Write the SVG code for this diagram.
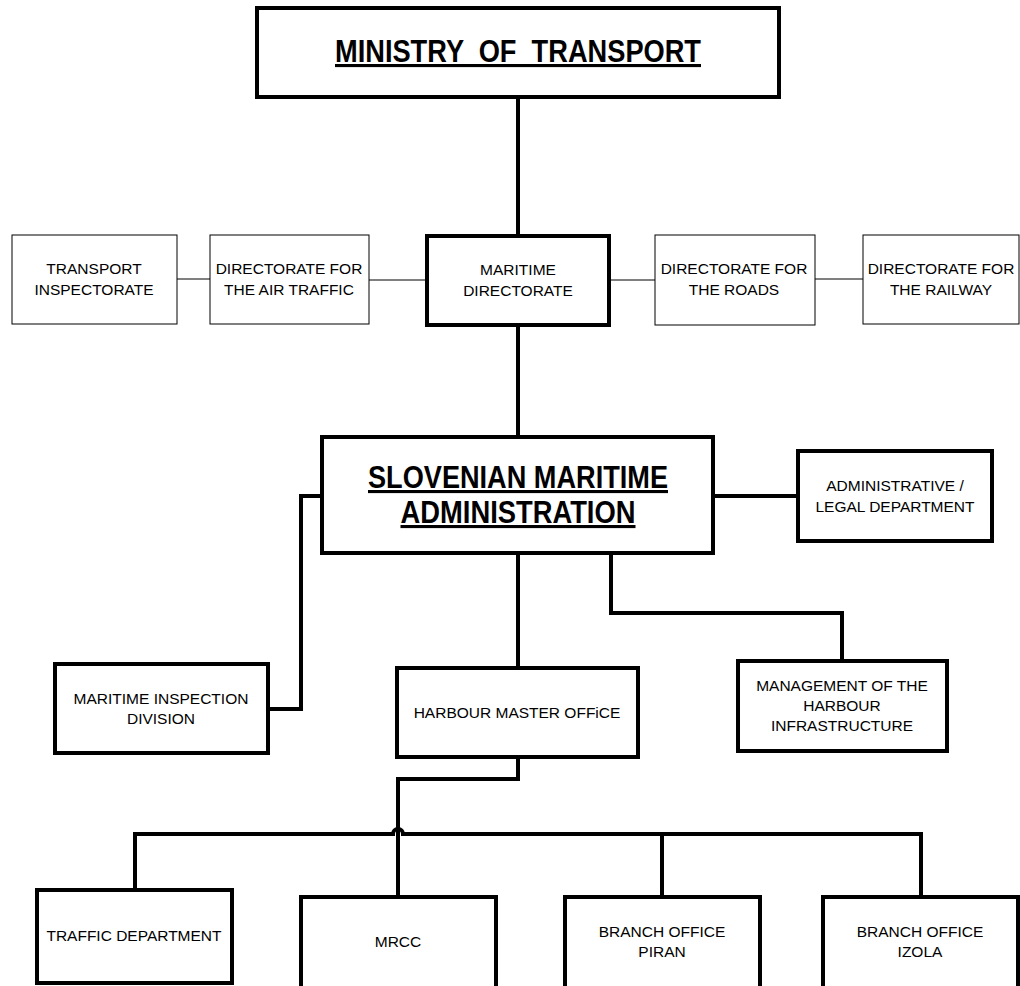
<svg xmlns="http://www.w3.org/2000/svg" width="1020" height="986" viewBox="0 0 1020 986">
<style>
.thick{fill:#fff;stroke:#000;stroke-width:4}
.thin{fill:#fff;stroke:#000;stroke-width:1}
.c{fill:none;stroke:#000;stroke-width:4;stroke-linejoin:miter}
.ct{fill:none;stroke:#000;stroke-width:1}
text{font-family:"Liberation Sans",Arial,sans-serif;font-size:15.5px;fill:#000;text-anchor:middle}
.b{font-weight:bold;text-decoration:underline;font-size:31px;white-space:pre}
</style>
<rect width="1020" height="986" fill="#fff"/>
<g id="connectors">
<path class="c" d="M518 97V236"/>
<path class="c" d="M518 325V437"/>
<path class="ct" d="M177 279H210M369 280H427M609 280H655M815 279H863"/>
<path class="c" d="M713 496H798"/>
<path class="c" d="M322 496H301V709H268"/>
<path class="c" d="M518 553V668"/>
<path class="c" d="M611 553V613H842V661"/>
<path class="c" d="M518 757V779H398V897"/>
<path class="c" d="M135 890V834H393A5 5 0 0 1 403 834H921V897"/>
<path class="c" d="M662 834V897"/>
</g>
<g id="ministry"><rect class="thick" x="257" y="8" width="522" height="89"/><text class="b" x="518" y="62" textLength="366" lengthAdjust="spacingAndGlyphs">MINISTRY  OF  TRANSPORT</text></g>
<g id="transport-inspectorate"><rect class="thin" x="12" y="235" width="165" height="89"/><text x="94" y="274">TRANSPORT</text><text x="94" y="295">INSPECTORATE</text></g>
<g id="dir-air"><rect class="thin" x="210" y="235" width="159" height="89"/><text x="289" y="274">DIRECTORATE FOR</text><text x="289" y="295">THE AIR TRAFFIC</text></g>
<g id="maritime-directorate"><rect class="thick" x="427" y="236" width="182" height="89"/><text x="518" y="275">MARITIME</text><text x="518" y="296">DIRECTORATE</text></g>
<g id="dir-roads"><rect class="thin" x="655" y="235" width="160" height="90"/><text x="734" y="274">DIRECTORATE FOR</text><text x="734" y="295">THE ROADS</text></g>
<g id="dir-railway"><rect class="thin" x="863" y="235" width="156" height="89"/><text x="941" y="274">DIRECTORATE FOR</text><text x="941" y="295">THE RAILWAY</text></g>
<g id="sma"><rect class="thick" x="322" y="437" width="391" height="116"/><text class="b" x="518" y="488" textLength="300" lengthAdjust="spacingAndGlyphs">SLOVENIAN MARITIME</text><text class="b" x="518" y="523" textLength="235" lengthAdjust="spacingAndGlyphs">ADMINISTRATION</text></g>
<g id="admin-legal"><rect class="thick" x="798" y="451" width="194" height="90"/><text x="895" y="491">ADMINISTRATIVE /</text><text x="895" y="512">LEGAL DEPARTMENT</text></g>
<g id="maritime-inspection"><rect class="thick" x="55" y="664" width="213" height="89"/><text x="161" y="704">MARITIME INSPECTION</text><text x="161" y="724">DIVISION</text></g>
<g id="harbour-master"><rect class="thick" x="397" y="668" width="241" height="89"/><text x="517" y="718">HARBOUR MASTER OFFiCE</text></g>
<g id="management"><rect class="thick" x="738" y="661" width="209" height="90"/><text x="842" y="691">MANAGEMENT OF THE</text><text x="842" y="711">HARBOUR</text><text x="842" y="731">INFRASTRUCTURE</text></g>
<g id="traffic"><rect class="thick" x="37" y="890" width="195" height="93"/><text x="134" y="941">TRAFFIC DEPARTMENT</text></g>
<g id="mrcc"><rect class="thick" x="301" y="897" width="195" height="95"/><text x="398" y="947">MRCC</text></g>
<g id="piran"><rect class="thick" x="565" y="897" width="195" height="95"/><text x="662" y="937">BRANCH OFFICE</text><text x="662" y="957">PIRAN</text></g>
<g id="izola"><rect class="thick" x="823" y="897" width="195" height="95"/><text x="920" y="937">BRANCH OFFICE</text><text x="920" y="957">IZOLA</text></g>
</svg>
